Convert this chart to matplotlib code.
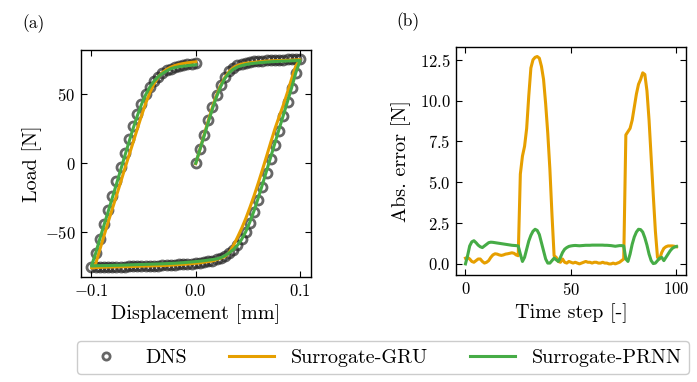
import matplotlib
matplotlib.use("Agg")
import matplotlib.pyplot as plt
import numpy as np

plt.rcParams['font.family'] = ['cmr10']
plt.rcParams['mathtext.fontset'] = 'cm'
plt.rcParams['axes.formatter.use_mathtext'] = True
plt.rcParams['axes.unicode_minus'] = True

# ---------------- data ----------------
displacement = [
    0.000, 0.004, 0.008, 0.012, 0.016, 0.020, 0.024, 0.028, 0.032, 0.036,
    0.040, 0.044, 0.048, 0.052, 0.056, 0.060, 0.064, 0.068, 0.072, 0.076,
    0.080, 0.084, 0.088, 0.092, 0.096, 0.100,
    0.096, 0.092, 0.088, 0.084, 0.080, 0.076, 0.072, 0.068, 0.064, 0.060,
    0.056, 0.052, 0.048, 0.044, 0.040, 0.036, 0.032, 0.028, 0.024, 0.020,
    0.016, 0.012, 0.008, 0.004, 0.000, -0.004, -0.008, -0.012, -0.016, -0.020,
    -0.024, -0.028, -0.032, -0.036, -0.040, -0.044, -0.048, -0.052, -0.056, -0.060,
    -0.064, -0.068, -0.072, -0.076, -0.080, -0.084, -0.088, -0.092, -0.096, -0.100,
    -0.096, -0.092, -0.088, -0.084, -0.080, -0.076, -0.072, -0.068, -0.064, -0.060,
    -0.056, -0.052, -0.048, -0.044, -0.040, -0.036, -0.032, -0.028, -0.024, -0.020,
    -0.016, -0.012, -0.008, -0.004, 0.000,
]
time_step = list(range(101))

dns_load = [
    0.0, 10.4, 20.8, 31.0, 40.8, 49.5, 56.8, 62.5, 66.5, 69.2,
    70.9, 72.0, 72.8, 73.3, 73.7, 74.0, 74.3, 74.5, 74.7, 74.85,
    75.0, 75.1, 75.2, 75.3, 75.4, 75.5,
    65.1, 54.7, 44.3, 33.9, 23.5, 13.1, 2.8, -7.4, -17.3, -26.8,
    -35.5, -43.2, -49.8, -55.2, -59.5, -62.8, -65.3, -67.2, -68.6, -69.7,
    -70.5, -71.1, -71.6, -72.0, -72.35,
    -72.65, -72.9, -73.15, -73.35, -73.55, -73.7, -73.85, -74.0, -74.1, -74.2,
    -74.3, -74.4, -74.5, -74.6, -74.7, -74.8, -74.9, -75.0, -75.05, -75.1,
    -75.2, -75.25, -75.3, -75.4, -75.5,
    -65.1, -54.7, -44.3, -33.9, -23.5, -13.1, -2.8, 7.4, 17.3, 26.8,
    35.5, 43.2, 49.8, 55.2, 59.5, 62.8, 65.3, 67.2, 68.6, 69.7,
    70.5, 71.1, 71.6, 72.0, 72.35,
]

# signed deviation of each surrogate from the DNS load [N]
gru_dev = [
    -0.35, -0.4, -0.3, -0.15, -0.1, -0.2, -0.3, -0.3, -0.15, -0.05,
    -0.1, -0.2, -0.4, -0.55, -0.62, -0.6, -0.55, -0.52, -0.55, -0.6,
    -0.62, -0.65, -0.68, -0.65, -0.55, -0.5,
    5.5, 6.6, 7.2, 8.3, 10.3, 12.0, 12.5, 12.65, 12.7, 12.6,
    12.1, 11.3, 9.8, 8.0, 5.8, 3.0, 0.5,
    -0.4, -0.15, -0.1, -0.3, -0.1, -0.05, -0.15, -0.1, -0.05, -0.1,
    -0.05, 0.0, -0.05, -0.1, -0.15, -0.1, -0.1, -0.05, -0.1, -0.1,
    -0.05, -0.05, -0.1, -0.05, -0.05, 0.0, 0.0, -0.05, 0.0, -0.05,
    -0.1, -0.2, -0.3,
    -7.9, -8.1, -8.3, -8.8, -9.6, -10.4, -11.0, -11.3, -11.7, -11.6,
    -10.6, -8.8, -6.5, -4.2, -2.0, -0.4,
    0.3, 0.7, 0.95, 1.05, 1.1, 1.1, 1.1, 1.08, 1.05,
]

prnn_dev = [
    0.0, -0.5, -1.1, -1.35, -1.42, -1.3, -1.15, -1.05, -1.0, -1.1,
    -1.2, -1.3, -1.33, -1.32, -1.3, -1.28, -1.26, -1.24, -1.22, -1.2,
    -1.18, -1.16, -1.14, -1.13, -1.12, -1.1,
    0.6, 0.15, 0.4, 0.9, 1.4, 1.75, 2.0, 2.12, 2.05, 1.8,
    1.3, 0.8, 0.3, 0.05, 0.05, 0.2, 0.35, 0.25, 0.15, 0.4,
    0.7, 0.9, 1.0, 1.07, 1.1,
    1.12, 1.13, 1.12, 1.11, 1.12, 1.13, 1.14, 1.14, 1.14, 1.15,
    1.15, 1.15, 1.15, 1.15, 1.15, 1.14, 1.14, 1.13, 1.12, 1.1,
    1.08, 1.1, 1.12, 1.12, 1.1,
    -0.3, -0.15, -0.6, -1.2, -1.65, -1.95, -2.12, -2.1, -1.95, -1.6,
    -1.15, -0.6, -0.2, -0.02, -0.05, -0.2, -0.35, -0.4, -0.2, -0.4,
    -0.6, -0.8, -0.95, -1.03, -1.07,
]

labels = ["DNS", "Surrogate-GRU", "Surrogate-PRNN"]
c_dns = "0.15"
c_gru = "#E69F00"
c_prnn = "#46AC46"

dns = np.array(dns_load)
gru = dns + np.array(gru_dev)
prnn = dns + np.array(prnn_dev)
gru_err = np.abs(gru - dns)
prnn_err = np.abs(prnn - dns)

# ---------------- figure ----------------
fig = plt.figure(figsize=(6.97, 3.82), dpi=100)
axa = fig.add_axes([0.1162, 0.2749, 0.330, 0.5942])
axb = fig.add_axes([0.6542, 0.2801, 0.330, 0.5976])

h_dns, = axa.plot(displacement, dns, linestyle="none", marker="o", markersize=6.5,
                  markerfacecolor="none", markeredgecolor=c_dns, markeredgewidth=2.0,
                  alpha=0.7, label=labels[0], zorder=1)
h_gru, = axa.plot(displacement, gru, color=c_gru, lw=2.2, label=labels[1], zorder=2)
h_prnn, = axa.plot(displacement, prnn, color=c_prnn, lw=2.2, label=labels[2], zorder=3)

axb.plot(time_step, gru_err, color=c_gru, lw=2.2)
axb.plot(time_step, prnn_err, color=c_prnn, lw=2.2)

axa.set_xlim(-0.11, 0.1105)
axa.set_ylim(-82.4, 82.0)
axa.set_xticks([-0.1, 0.0, 0.1])
axa.set_yticks([-50, 0, 50])
axb.set_xlim(-4.5, 104.5)
axb.set_ylim(-0.68, 13.3)
axb.set_xticks([0, 50, 100])
axb.set_yticks([0.0, 2.5, 5.0, 7.5, 10.0, 12.5])

for ax in (axa, axb):
    ax.tick_params(direction="in", top=True, right=True, length=4, width=0.8,
                   labelsize=12, pad=4)
    for s in ax.spines.values():
        s.set_linewidth(1.0)

axa.set_xlabel("Displacement [mm]", fontsize=14.5, labelpad=4)
axa.set_ylabel("Load [N]", fontsize=14.5, labelpad=2)
axb.set_xlabel("Time step [-]", fontsize=14.5, labelpad=4)
axb.set_ylabel("Abs. error [N]", fontsize=14.5, labelpad=6)

fig.text(0.0488, 0.937, "(a)", fontsize=12.5, ha="center", va="center")
fig.text(0.5854, 0.943, "(b)", fontsize=12.5, ha="center", va="center")

leg = fig.legend([h_dns, h_gru, h_prnn], labels, loc="center",
                 bbox_to_anchor=(0.549, 0.064), ncol=3, fontsize=14.5,
                 handlelength=2.25, columnspacing=2.1, handletextpad=0.8,
                 frameon=True, fancybox=True, edgecolor="0.8", framealpha=1,
                 borderpad=0.35, markerscale=0.8)

fig.savefig("out.png", dpi=100)
